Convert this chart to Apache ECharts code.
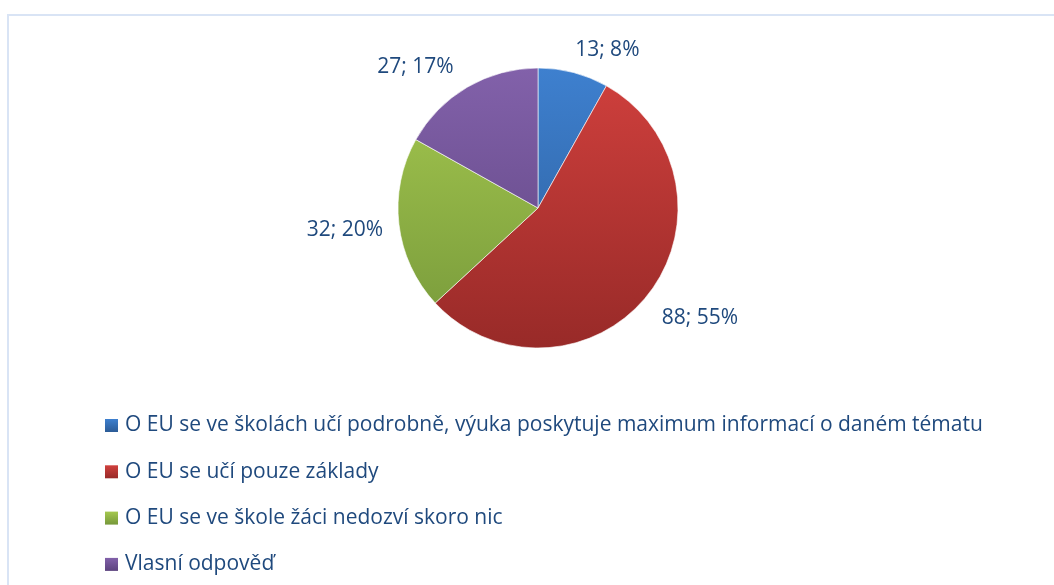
<!DOCTYPE html>
<html>
	<head>
		<meta charset="utf-8" />
		<title>EU ve školách</title>
		<script type="text/javascript" src="https://cdn.jsdelivr.net/npm/echarts@6/dist/echarts.min.js"></script>
		<style>
			html,body{ margin:0; padding:0; background:#fff;}
			#chart{ width:1054px; height:585px;}
			.frame{ position:absolute; left:7px; top:14px; width:1060px; height:600px; border:2px solid #d9e4f5; box-sizing:border-box;}
		</style>
	</head>
	<body>
		<div class="frame"></div>
		<div id="chart"></div>
	</body>
</html>
<script>
	var names=[
		'O EU se ve školách učí podrobně, výuka poskytuje maximum informací o daném tématu',
		'O EU se učí pouze základy',
		'O EU se ve škole žáci nedozví skoro nic',
		'Vlasní odpověď'
	];
	var values=[13,88,32,27];
	//barvy: horní a dolní okraj přechodu
	var topColors=['#3e80cf','#d0403d','#a5c84f','#8261aa'];
	var bottomColors=['#2b5b96','#982a28','#76983a','#5c437e'];
	//posun popisků (jako v Excelu "nejlepší umístění")
	var labelNudge=[[-7,-8],[-3,14],[4,4],[-1,-7]];

	var cx=538, cy=208, r=140;
	var data=[];
	for(var i=0;i<values.length;i++){
		data.push({
			name:names[i],
			value:values[i],
			itemStyle:{
				color:new echarts.graphic.LinearGradient(0,cy-r,0,cy+r,[
					{offset:0,color:topColors[i]},
					{offset:1,color:bottomColors[i]}
				],true)
			}
		});
	}
	var myChart=echarts.init(document.getElementById('chart'));
	var option={
		animation:false,
		legend:{
			orient:'vertical',
			left:105,
			top:415,
			padding:0,
			itemWidth:13,
			itemHeight:13,
			itemGap:25.3,
			icon:'rect',
			itemStyle:{ borderWidth:0 },
			textStyle:{
				fontFamily:'Open Sans',
				fontSize:21,
				lineHeight:20,
				color:'#1f497d',
				padding:[0,0,0,2]
			},
			data:names.map(function(n,i){
				return {name:n,itemStyle:{borderWidth:0,color:new echarts.graphic.LinearGradient(0,0,0,1,[
					{offset:0,color:topColors[i]},
					{offset:1,color:bottomColors[i]}
				])}};
			})
		},
		series:[
			{
				type:'pie',
				center:[cx,cy],
				radius:r,
				startAngle:90,
				clockwise:true,
				percentPrecision:0,
				silent:true,
				itemStyle:{
					borderColor:'#fff',
					borderWidth:0.6
				},
				label:{
					show:true,
					position:'outside',
					formatter:'{c}; {d}%',
					fontFamily:'Open Sans',
					fontSize:21,
					color:'#1f497d'
				},
				labelLine:{
					show:false,
					length:15,
					length2:0
				},
				labelLayout:function(p){
					var n=labelNudge[p.dataIndex];
					return {dx:n[0],dy:n[1]};
				},
				data:data
			}
		]
	};
	myChart.setOption(option);
</script>
